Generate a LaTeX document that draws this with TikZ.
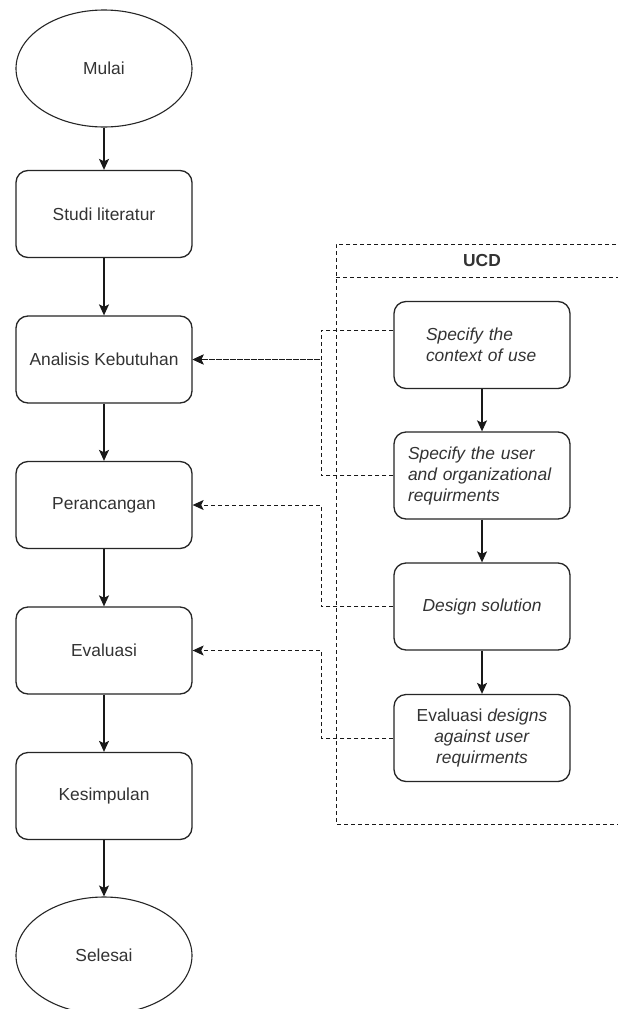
\documentclass[tikz,border=0pt]{standalone}
\usepackage{fontspec}
\setmainfont{Liberation Sans}
\usetikzlibrary{arrows.meta,shapes.geometric,calc}
\begin{document}
\begin{tikzpicture}[x=1pt,y=-1pt,
  txt/.style={font=\fontsize{17.4}{21}\selectfont, text=black!80},
  proc/.style={txt, draw=black!85, line width=1.3pt, rounded corners=12pt, minimum width=176pt, minimum height=87pt, inner sep=0pt},
  term/.style={txt, draw=black!85, line width=1.1pt, ellipse, minimum width=176pt, minimum height=117pt, inner sep=0pt},
  flow/.style={line width=1.3pt, draw=black!90, -{Stealth[length=11pt,width=10pt,inset=2.5pt]}},
  dflow/.style={line width=1pt, draw=black!90, dash pattern=on 4pt off 3pt, -{Stealth[length=11pt,width=10pt,inset=2.5pt]}},
  dline/.style={line width=1pt, draw=black!90, dash pattern=on 4pt off 3pt},
]
\useasboundingbox (0,0) rectangle (618,1009);
\clip (0,0) rectangle (618,1009);
\fill[white] (0,0) rectangle (618,1009);

% left column
\node[term] (mulai) at (104,68.5) {Mulai};
\node[proc] (studi) at (104,214) {Studi literatur};
\node[proc] (ana) at (104,359.5) {Analisis Kebutuhan};
\node[proc] (per) at (104,505) {Perancangan};
\node[proc] (eva) at (104,650.5) {Evaluasi};
\node[proc] (kes) at (104,796) {Kesimpulan};
\node[term] (sel) at (104,955.5) {Selesai};

\draw[flow] (mulai) -- (studi);
\draw[flow] (studi) -- (ana);
\draw[flow] (ana) -- (per);
\draw[flow] (per) -- (eva);
\draw[flow] (eva) -- (kes);
\draw[flow] (kes) -- (sel);

% UCD container
\draw[dline] (630,244) -- (336,244) -- (336,824) -- (630,824);
\draw[dline] (336,277) -- (630,277);
\node[txt, font=\fontsize{17.4}{21}\selectfont\bfseries] (ucd) at (482,261) {UCD};

% right column
\node[proc, text width=112pt, align=left] (ctx) at (482,345) {\itshape Specify the\\ \itshape context of use};
\node[proc, text width=148pt, align=left] (usr) at (482,475.5) {\itshape Specify the user\\ \itshape and organizational\\ \itshape requirments};
\node[proc, align=center] (des) at (482,606.5) {\itshape Design solution};
\node[proc, align=center] (evd) at (482,738) {Evaluasi \textit{designs}\\ \textit{against user}\\ \textit{requirments}};

\draw[flow] (ctx) -- (usr);
\draw[flow] (usr) -- (des);
\draw[flow] (des) -- (evd);

% dashed feedback connectors
\draw[dflow] ([yshift=15pt]ctx.west) -- ++(-72,0) |- (ana.east);
\draw[dflow] (usr.west) -- ++(-72,0) |- (ana.east);
\draw[dflow] (des.west) -- ++(-72,0) |- (per.east);
\draw[dflow] (evd.west) -- ++(-72,0) |- (eva.east);
\end{tikzpicture}
\end{document}
